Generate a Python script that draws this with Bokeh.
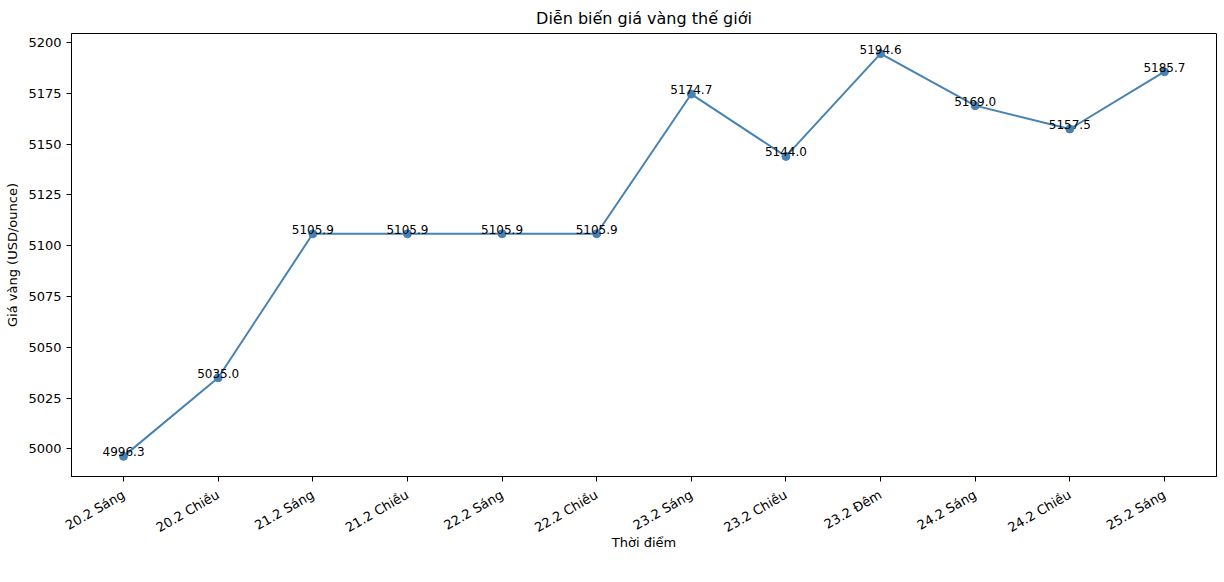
from bokeh.plotting import figure
from bokeh.models import FixedTicker, Range1d, ColumnDataSource
from bokeh.core.properties import value
from bokeh.embed import file_html
from bokeh.resources import INLINE
import math

categories = ["20.2 Sáng", "20.2 Chiều", "21.2 Sáng", "21.2 Chiều", "22.2 Sáng", "22.2 Chiều",
              "23.2 Sáng", "23.2 Chiều", "23.2 Đêm", "24.2 Sáng", "24.2 Chiều", "25.2 Sáng"]
prices = [4996.3, 5035.0, 5105.9, 5105.9, 5105.9, 5105.9, 5174.7, 5144.0, 5194.6, 5169.0, 5157.5, 5185.7]
y_ticks = [5000, 5025, 5050, 5075, 5100, 5125, 5150, 5175, 5200]

FONT = "DejaVu Sans"
COLOR = "#4682B4"

xs = list(range(len(categories)))
src = ColumnDataSource(dict(x=xs, y=prices, lbl=[f"{v:.1f}" for v in prices]))

n = len(categories)
ymin, ymax = min(prices), max(prices)
pad = (ymax - ymin) * 0.05
xpad = (n - 1) * 0.05

p = figure(width=1224, height=582, output_backend="svg", toolbar_location=None,
           x_range=Range1d(-xpad, n - 1 + xpad), y_range=Range1d(ymin - pad, ymax + pad),
           title="Diễn biến giá vàng thế giới",
           min_border_left=71, min_border_right=8, min_border_top=33, min_border_bottom=106)

p.title.align = "center"
p.title.text_font = FONT
p.title.text_font_size = "16px"
p.title.text_font_style = "normal"
p.title.text_color = "black"
p.title.standoff = 11

p.line("x", "y", source=src, line_color=COLOR, line_width=2)
p.scatter("x", "y", source=src, size=8, fill_color=COLOR, line_color=COLOR)
p.text("x", "y", text="lbl", source=src, text_align="center", text_baseline="bottom",
       text_font=value(FONT), text_font_size="12px", text_color="black")

p.xgrid.visible = False
p.ygrid.visible = False
p.outline_line_color = "black"
p.outline_line_width = 1

p.xaxis.ticker = FixedTicker(ticks=xs)
p.xaxis.major_label_overrides = {i: c for i, c in enumerate(categories)}
p.xaxis.major_label_orientation = math.radians(30)
p.yaxis.ticker = FixedTicker(ticks=y_ticks)

for ax in (p.xaxis[0], p.yaxis[0]):
    ax.axis_line_color = "black"
    ax.major_tick_line_color = "black"
    ax.major_tick_out = 5
    ax.major_tick_in = 0
    ax.minor_tick_line_color = None
    ax.major_label_text_font = FONT
    ax.major_label_text_font_size = "13px"
    ax.major_label_text_color = "black"
    ax.axis_label_text_font = FONT
    ax.axis_label_text_font_size = "13px"
    ax.axis_label_text_font_style = "normal"
    ax.axis_label_text_color = "black"

p.xaxis.major_label_standoff = 12
p.xaxis.axis_label_standoff = -10
p.yaxis.axis_label_standoff = 5
p.xaxis.axis_label = "Thời điểm"
p.yaxis.axis_label = "Giá vàng (USD/ounce)"

open("out.html", "w").write(file_html(p, INLINE))
